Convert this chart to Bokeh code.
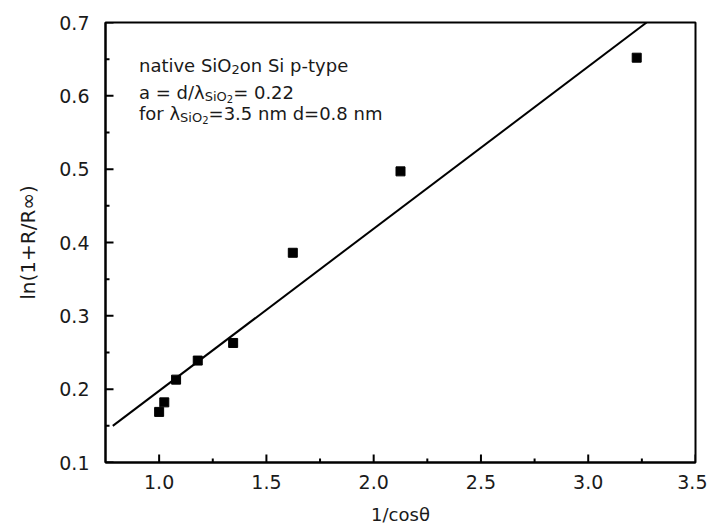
from bokeh.plotting import figure
from bokeh.models import Label, Range1d, NumeralTickFormatter, FixedTicker
from bokeh.embed import file_html
from bokeh.resources import INLINE

# data
inv_cos = [1.000, 1.024, 1.079, 1.180, 1.345, 1.623, 2.125, 3.226]
ln_ratio = [0.169, 0.182, 0.213, 0.239, 0.263, 0.386, 0.497, 0.652]
fit_x = [0.784, 3.272]
fit_y = [0.150, 0.700]
x_ticks = [1.0, 1.5, 2.0, 2.5, 3.0, 3.5]
y_ticks = [0.1, 0.2, 0.3, 0.4, 0.5, 0.6, 0.7]
x_minor = [1.25, 1.75, 2.25, 2.75, 3.25]
y_minor = [0.15, 0.25, 0.35, 0.45, 0.55, 0.65]
X_MIN, X_MAX = 0.75, 3.5
Y_MIN, Y_MAX = 0.1, 0.7

FONT = "DejaVu Sans"
TXT = "#1a1a1a"

p = figure(width=707, height=528, output_backend="svg", toolbar_location=None,
           x_range=Range1d(X_MIN, X_MAX), y_range=Range1d(Y_MIN, Y_MAX),
           min_border_left=105, min_border_right=12, min_border_top=22, min_border_bottom=66)
p.background_fill_color = "white"
p.border_fill_color = "white"
p.grid.visible = False
p.outline_line_color = "black"
p.outline_line_width = 2

for ax in (p.xaxis[0], p.yaxis[0]):
    ax.axis_line_width = 2
    ax.axis_line_color = "black"
    ax.major_tick_in = 0
    ax.major_tick_out = 0
    ax.minor_tick_in = 0
    ax.minor_tick_out = 0
    ax.major_label_text_font = FONT
    ax.major_label_text_font_size = "19px"
    ax.major_label_text_color = TXT
    ax.axis_label_text_font = FONT
    ax.axis_label_text_font_style = "normal"
    ax.axis_label_text_color = TXT
    ax.formatter = NumeralTickFormatter(format="0.0")

p.xaxis[0].ticker = FixedTicker(ticks=x_ticks, minor_ticks=x_minor)
p.yaxis[0].ticker = FixedTicker(ticks=y_ticks, minor_ticks=y_minor)
p.xaxis[0].major_label_standoff = 12
p.yaxis[0].major_label_standoff = 16
p.xaxis[0].axis_label = "1/cosθ"
p.yaxis[0].axis_label = "ln(1+R/R∞)"
p.xaxis[0].axis_label_text_font_size = "18px"
p.yaxis[0].axis_label_text_font_size = "20px"
p.xaxis[0].axis_label_standoff = 12
p.yaxis[0].axis_label_standoff = 16

# inward ticks drawn as short screen-length rays from the axes
p.ray(x=x_ticks, y=[Y_MIN] * len(x_ticks), length=8, length_units="screen",
      angle=90, angle_units="deg", line_color="black", line_width=2)
p.ray(x=x_minor, y=[Y_MIN] * len(x_minor), length=4, length_units="screen",
      angle=90, angle_units="deg", line_color="black", line_width=2)
p.ray(x=[X_MIN] * len(y_ticks), y=y_ticks, length=8, length_units="screen",
      angle=0, angle_units="deg", line_color="black", line_width=2)
p.ray(x=[X_MIN] * len(y_minor), y=y_minor, length=4, length_units="screen",
      angle=0, angle_units="deg", line_color="black", line_width=2)

p.line(fit_x, fit_y, line_color="black", line_width=2)
p.scatter(inv_cos, ln_ratio, marker="square", size=9, fill_color="black", line_color="black")

# annotation text (with subscripts)
def piece(txt, x, y, dx, dy, size):
    p.add_layout(Label(x=x, y=y, x_offset=dx, y_offset=dy, text=txt,
                       text_font=FONT, text_font_size=size, text_color=TXT,
                       text_baseline="alphabetic", text_align="left"))

X0 = 0.906
L1, L2, L3 = 0.6416, 0.6048, 0.576
big, sub, subsub = "18px", "13px", "10px"
em, es, ess = 18.0, 13.0, 10.0
# line 1
piece("native SiO", X0, L1, 0, 0, big)
w1 = 5.142 * em
piece("2", X0, L1, w1, -4, sub)
piece("on Si p-type", X0, L1, w1 + 0.636 * es, 0, big)
# line 2
w2 = 3.651 * em
piece("a = d/λ", X0, L2, 0, 0, big)
piece("SiO", X0, L2, w2, -4, sub)
piece("2", X0, L2, w2 + 1.7 * es, -7, subsub)
piece("= 0.22", X0, L2, w2 + 1.7 * es + 0.636 * ess, 0, big)
# line 3
w3 = 2.285 * em
piece("for λ", X0, L3, 0, 0, big)
piece("SiO", X0, L3, w3, -4, sub)
piece("2", X0, L3, w3 + 1.7 * es, -7, subsub)
piece("=3.5 nm d=0.8 nm", X0, L3, w3 + 1.7 * es + 0.636 * ess, 0, big)

open("out.html", "w").write(file_html(p, INLINE))
